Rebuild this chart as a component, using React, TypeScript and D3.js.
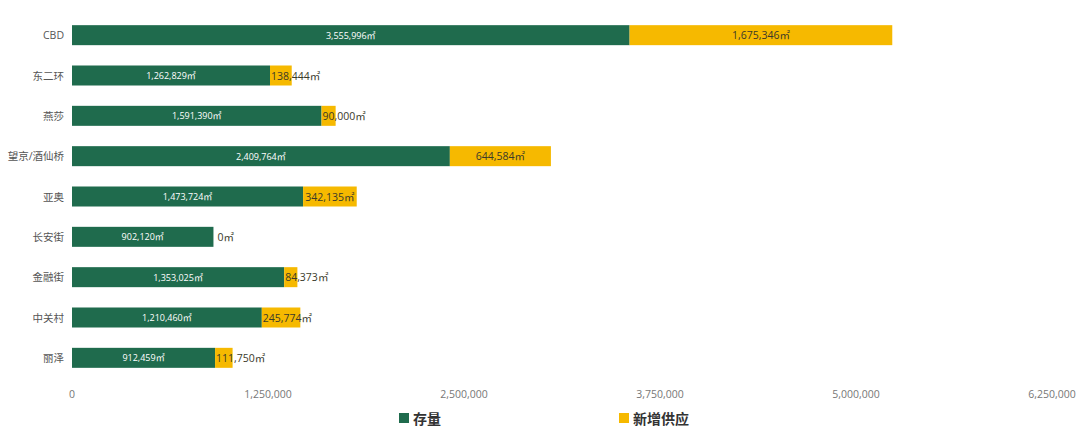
import React from "react";
import * as d3 from "d3";

const categories = ["CBD", "东二环", "燕莎", "望京/酒仙桥", "亚奥", "长安街", "金融街", "中关村", "丽泽"];
const stock = [3555996, 1262829, 1591390, 2409764, 1473724, 902120, 1353025, 1210460, 912459];
const supply = [1675346, 138444, 90000, 644584, 342135, 0, 84373, 245774, 111750];
const ticks = [0, 1250000, 2500000, 3750000, 5000000, 6250000];
const seriesNames = ["存量", "新增供应"];

const GREEN = "#1f6b4d";
const YELLOW = "#f6b900";
const FONT = "'Open Sans', 'Noto Sans CJK SC', sans-serif";

function textWidth(s: string, size: number) {
  let w = 0;
  for (const ch of s) {
    if (/[0-9]/.test(ch)) w += size * 0.57;
    else if (ch === ",") w += size * 0.27;
    else if (ch === "㎡") w += size * 0.95;
    else w += size * 0.6;
  }
  return w;
}

export default function App() {
  const W = 1080, H = 432;
  const x = d3.scaleLinear().domain([0, 6250000]).range([72, 1052]);
  const y = d3.scaleBand<string>().domain(categories).range([15, 378]).paddingInner(0.5).paddingOuter(0.25);
  const fmt = d3.format(",");
  const bh = 20;
  const sFont = 10.5;
  return (
    <svg width={W} height={H} style={{ position: "absolute", left: 0, top: 0, fontFamily: FONT }}>
      {categories.map((c, i) => {
        const cy = (y(c) as number) + y.bandwidth() / 2;
        const x0 = x(0), x1 = x(stock[i]), x2 = x(stock[i] + supply[i]);
        const sLabel = fmt(supply[i]) + "㎡";
        const sw = textWidth(sLabel, sFont);
        const fits = sw <= x2 - x1;
        return (
          <g key={c}>
            <text x={64} y={cy} textAnchor="end" dominantBaseline="central" fontSize={10.5} fill="#555">{c}</text>
            <rect x={x0} y={cy - bh / 2} width={x1 - x0} height={bh} fill={GREEN} />
            <rect x={x1} y={cy - bh / 2} width={x2 - x1} height={bh} fill={YELLOW} />
            <text x={(x0 + x1) / 2} y={cy} textAnchor="middle" dominantBaseline="central" fontSize={9} fill="#fff">{fmt(stock[i]) + "㎡"}</text>
            <text x={fits ? (x1 + x2) / 2 : x1 + (supply[i] === 0 ? 4 : 1)} y={cy} textAnchor={fits ? "middle" : "start"} dominantBaseline="central" fontSize={sFont} fill="#3a3a2a">{sLabel}</text>
          </g>
        );
      })}
      {ticks.map((t) => (
        <text key={t} x={x(t)} y={394} textAnchor="middle" dominantBaseline="central" fontSize={10.5} fill="#777">{fmt(t)}</text>
      ))}
      <rect x={399} y={413} width={10} height={10} fill={GREEN} />
      <text x={413} y={418} dominantBaseline="central" fontSize={14} fontWeight="bold" fill="#333">{seriesNames[0]}</text>
      <rect x={619} y={413} width={10} height={10} fill={YELLOW} />
      <text x={633} y={418} dominantBaseline="central" fontSize={14} fontWeight="bold" fill="#333">{seriesNames[1]}</text>
    </svg>
  );
}
